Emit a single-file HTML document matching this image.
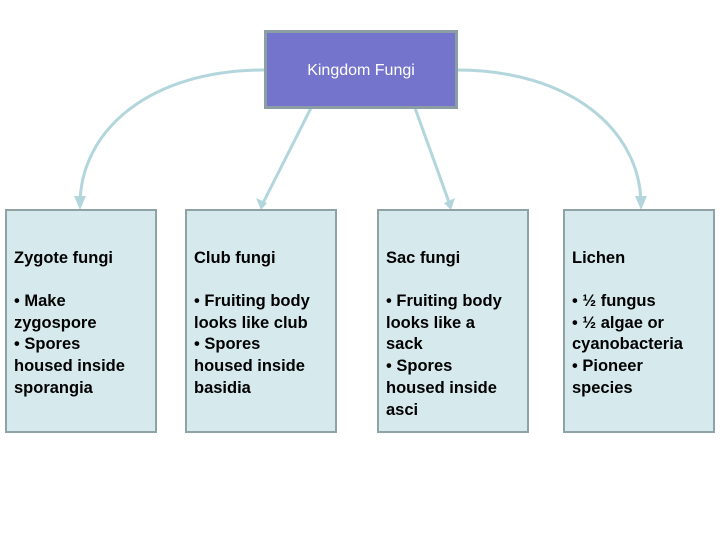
<!DOCTYPE html>
<html><head><style>
body{margin:0;width:720px;height:540px;background:#fff;position:relative;overflow:hidden;font-family:"Liberation Sans",Arial,sans-serif}
.top{position:absolute;left:264px;top:30px;width:188px;height:73px;background:#7474cc;border:3px solid #8a9ea3;color:#fff;font-size:16px;text-align:center;line-height:76px}
.b{position:absolute;top:209px;width:148px;height:220px;background:#d6eaee;border:2px solid #8fa3a6;font-weight:bold;font-size:16.5px;color:#000;box-sizing:content-box}
.b .t{position:absolute;left:7px;top:38px}
.b .c{position:absolute;left:7px;top:80px;line-height:21.7px;width:128px}
</style></head><body>
<svg width="720" height="540" style="position:absolute;left:0;top:0">
<g fill="none" stroke="#b2d6dc" stroke-width="3">
<path d="M264 70 C150 70 80 130 80 205"/>
<path d="M457 70 C570 70 641 130 641 205"/>
<path d="M311 108 L262 205"/>
<path d="M415 108 L450 205"/>
</g>
<g fill="#b2d6dc">
<path d="M74 196 L86 196 L80 210Z"/>
<path d="M635 196 L647 196 L641 210Z"/>
<path d="M256 198 L267 203 L261 210Z"/>
<path d="M444 203 L455 198 L451 210Z"/>
</g>
</svg>
<div class="top">Kingdom Fungi</div>
<div class="b" style="left:5px"><div class="t">Zygote fungi</div><div class="c">• Make<br>zygospore<br>• Spores<br>housed inside sporangia</div></div>
<div class="b" style="left:185px"><div class="t">Club fungi</div><div class="c">• Fruiting body looks like club<br>• Spores<br>housed inside basidia</div></div>
<div class="b" style="left:377px"><div class="t">Sac fungi</div><div class="c">• Fruiting body looks like a<br>sack<br>• Spores<br>housed inside asci</div></div>
<div class="b" style="left:563px"><div class="t">Lichen</div><div class="c">• ½ fungus<br>• ½ algae or cyanobacteria<br>• Pioneer<br>species</div></div>
</body></html>
